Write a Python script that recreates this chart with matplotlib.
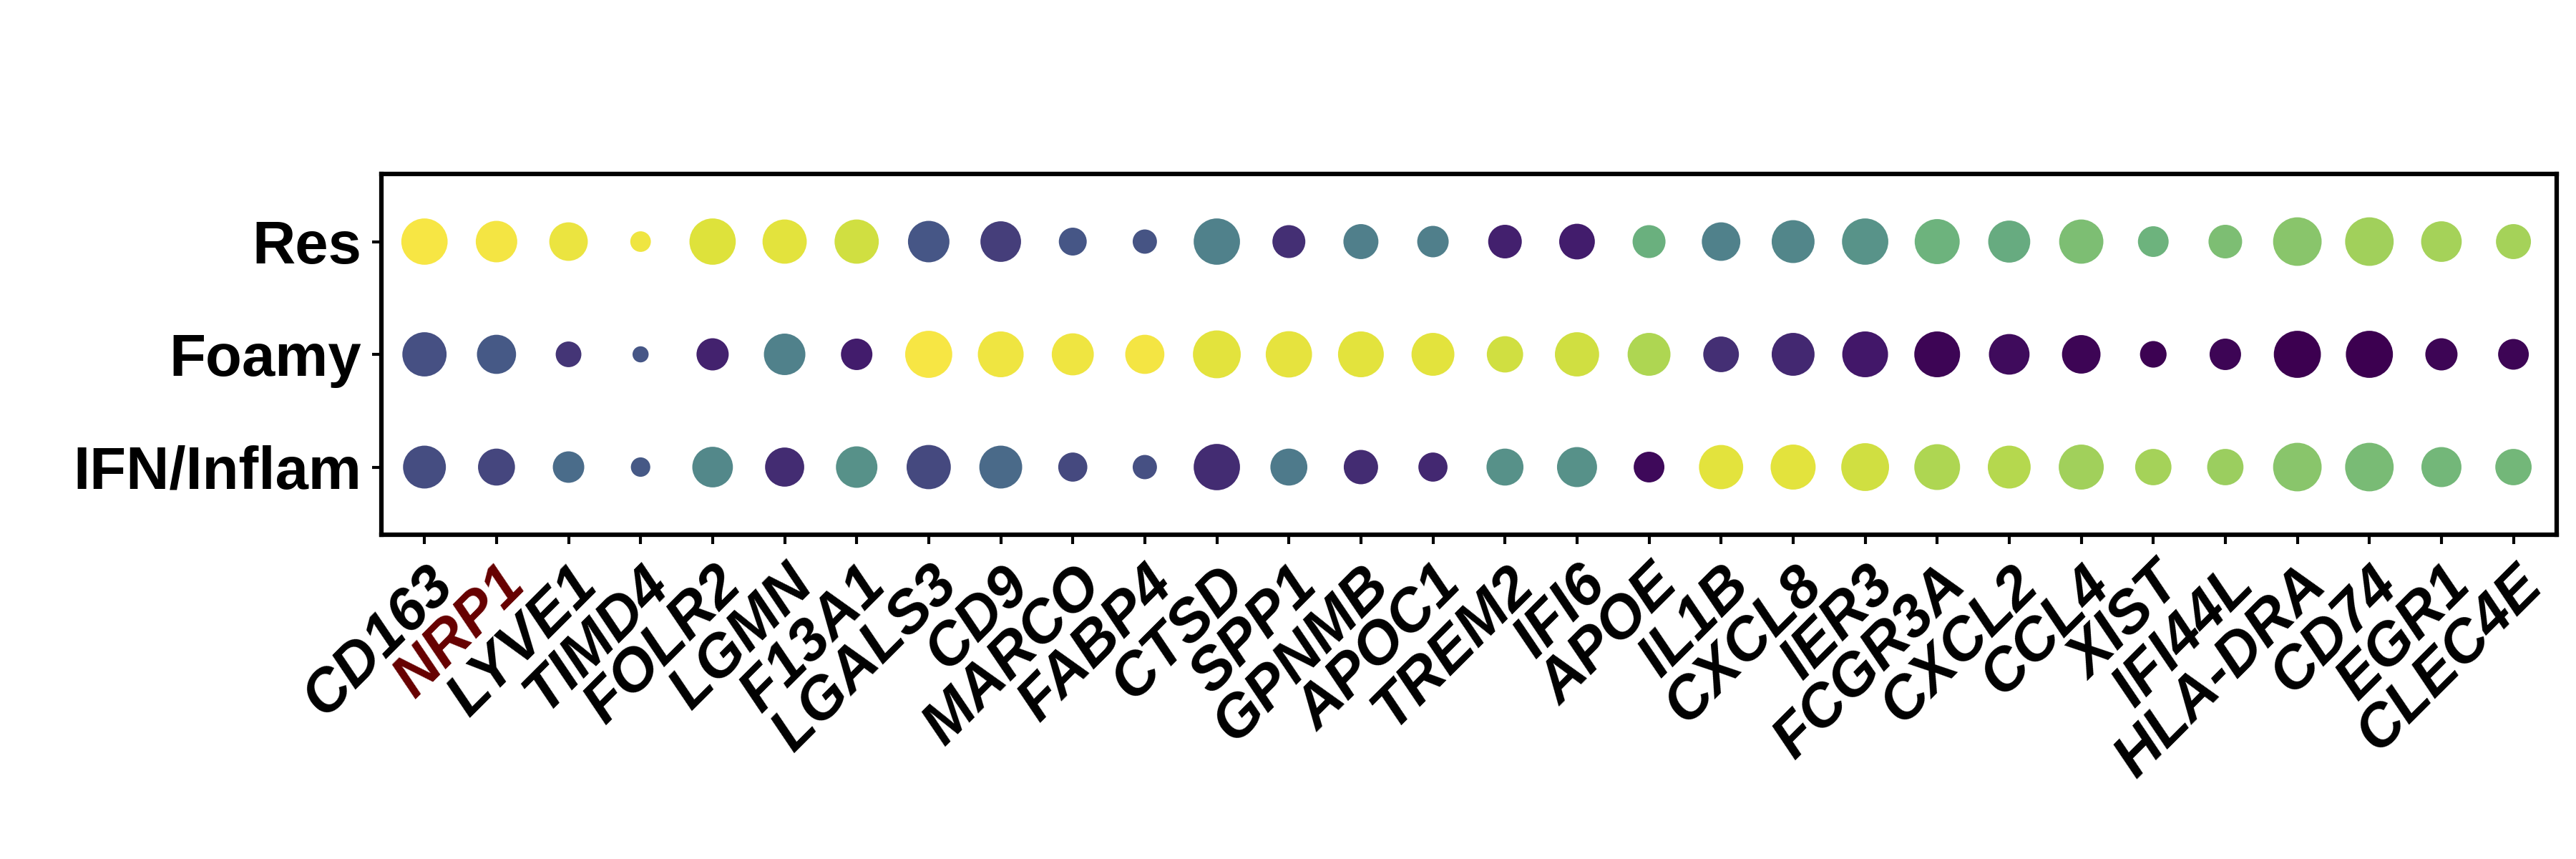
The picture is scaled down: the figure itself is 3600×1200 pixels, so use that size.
import numpy as np
import matplotlib
matplotlib.use("Agg")
import matplotlib.pyplot as plt
from matplotlib.colors import LinearSegmentedColormap

# genes on the x axis and clusters on the y axis
genes = ["CD163", "NRP1", "LYVE1", "TIMD4", "FOLR2", "LGMN", "F13A1", "LGALS3",
         "CD9", "MARCO", "FABP4", "CTSD", "SPP1", "GPNMB", "APOC1", "TREM2",
         "IFI6", "APOE", "IL1B", "CXCL8", "IER3", "FCGR3A", "CXCL2", "CCL4",
         "XIST", "IFI44L", "HLA-DRA", "CD74", "EGR1", "CLEC4E"]
clusters = ["IFN/Inflam", "Foamy", "Res"]
highlight = ["NRP1"]

# mean expression (scaled 0-1), one list per cluster
expr_res = [1.00, 0.99, 0.97, 0.98, 0.94, 0.95, 0.92, 0.30, 0.23, 0.30,
            0.29, 0.50, 0.18, 0.49, 0.49, 0.13, 0.12, 0.69, 0.50, 0.52,
            0.58, 0.70, 0.67, 0.75, 0.70, 0.75, 0.79, 0.84, 0.85, 0.85]
expr_foamy = [0.28, 0.31, 0.20, 0.30, 0.14, 0.50, 0.12, 1.00, 0.98, 0.98,
              0.99, 0.95, 0.96, 0.95, 0.95, 0.92, 0.92, 0.87, 0.18, 0.16,
              0.10, 0.02, 0.05, 0.02, 0.01, 0.02, 0.00, 0.00, 0.02, 0.02]
expr_ifn = [0.27, 0.25, 0.39, 0.31, 0.53, 0.17, 0.57, 0.26, 0.38, 0.26,
            0.28, 0.17, 0.46, 0.17, 0.16, 0.57, 0.57, 0.04, 0.95, 0.95,
            0.92, 0.87, 0.88, 0.84, 0.85, 0.83, 0.79, 0.74, 0.72, 0.72]

# percent of cells expressing
pct_res = [91, 73, 63, 18, 91, 83, 83, 73, 70, 33, 25, 91, 46, 52, 42,
           48, 54, 46, 63, 78, 91, 86, 75, 83, 40, 48, 100, 100, 70, 52]
pct_foamy = [83, 65, 28, 11, 44, 73, 42, 94, 89, 75, 65, 97, 91, 89, 78,
             56, 83, 78, 54, 78, 89, 89, 70, 63, 30, 42, 94, 94, 44, 40]
pct_ifn = [78, 58, 42, 16, 70, 65, 73, 83, 78, 36, 25, 91, 58, 50, 36,
           58, 68, 40, 83, 86, 97, 89, 78, 86, 56, 56, 100, 100, 68, 56]

cmap = LinearSegmentedColormap.from_list("dots", [
    (0.00, "#3c0050"), (0.10, "#42176a"), (0.20, "#443576"),
    (0.30, "#465786"), (0.40, "#4b6f8a"), (0.50, "#50818b"),
    (0.60, "#5a9888"), (0.70, "#6cb37d"), (0.80, "#8cc76a"),
    (0.88, "#b3d84f"), (0.94, "#dde23b"), (1.00, "#f7e644")])

expr = np.array([expr_ifn, expr_foamy, expr_res])
pct = np.array([pct_ifn, pct_foamy, pct_res])

plt.rcParams["font.family"] = ["Liberation Sans", "DejaVu Sans"]

fig = plt.figure(figsize=(12, 4), dpi=300)
ax = fig.add_axes([0.148, 0.3775, 0.8445, 0.42])

xx, yy = np.meshgrid(np.arange(len(genes)), np.arange(len(clusters)))
ax.scatter(xx.ravel(), yy.ravel(), s=pct.ravel() / 100 * 265,
           c=expr.ravel(), cmap=cmap, vmin=0, vmax=1, linewidths=0)

ax.set_xlim(-0.6, len(genes) - 0.4)
ax.set_ylim(-0.6, len(clusters) - 0.4)

ax.set_xticks(np.arange(len(genes)))
ax.set_xticklabels(genes, rotation=45, ha="right", va="top",
                   rotation_mode="anchor", fontsize=20,
                   fontweight="bold", fontstyle="italic")
for lab in ax.get_xticklabels():
    if lab.get_text() in highlight:
        lab.set_color("#660000")

ax.set_yticks(np.arange(len(clusters)))
ax.set_yticklabels(clusters, fontsize=20, fontweight="bold")

for sp in ax.spines.values():
    sp.set_linewidth(1.5)
ax.tick_params(axis="both", length=3.2, width=1.0)
ax.tick_params(axis="x", pad=4)

fig.savefig("out.png", dpi=300)
